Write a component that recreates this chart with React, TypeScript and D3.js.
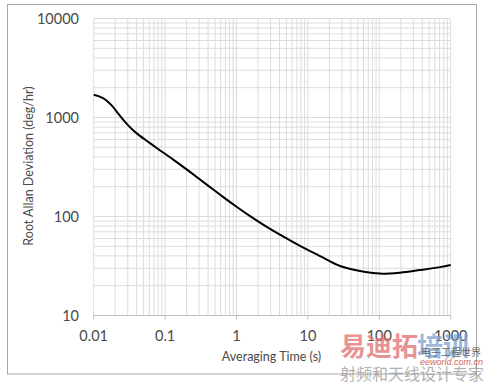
import React from "react";
import * as d3 from "d3";

const tauValues = [0.01, 0.0135, 0.0176, 0.0231, 0.0302, 0.036, 0.0417, 0.0576, 0.0762, 0.13, 0.223, 0.383, 0.653, 1.06, 1.55, 2.95, 5.61, 7.75, 14.8, 28.2, 53.7, 102, 195, 372, 708, 1000];
const adevValues = [1694, 1572, 1341, 1050, 837, 738, 675, 569, 492, 375, 282, 210, 157, 122, 101, 75, 57.5, 50.5, 39.8, 31.6, 28.1, 26.5, 27.1, 28.8, 30.8, 32.3];
const xTickLabels = ["0.01", "0.1", "1", "10", "100", "1000"];
const yTickLabels = ["10", "100", "1000", "10000"];
const xTitle = "Averaging Time (s)";
const yTitle = "Root Allan Deviation (deg/hr)";

const W = 490, H = 382;
const left = 93.7, right = 450.7, top = 18.5, bottom = 315.5;

export default function App() {
  const x = d3.scaleLog().domain([0.01, 1000]).range([left, right]);
  const y = d3.scaleLog().domain([10, 10000]).range([bottom, top]);

  const xMinor: number[] = [];
  for (let e = -2; e < 3; e++) for (let m = 1; m < 10; m++) xMinor.push(m * Math.pow(10, e));
  xMinor.push(1000);
  const yMinor: number[] = [];
  for (let e = 1; e < 4; e++) for (let m = 1; m < 10; m++) yMinor.push(m * Math.pow(10, e));
  yMinor.push(10000);

  const pts = tauValues.map((t, i) => [t, adevValues[i]] as [number, number]);
  const line = d3.line<[number, number]>().x(d => x(d[0])).y(d => y(d[1])).curve(d3.curveCatmullRom.alpha(0.5));

  const font = "Lato, 'Open Sans', sans-serif";
  return (
    <svg width={W} height={H} style={{ position: "absolute", left: 0, top: 0 }}>
      <rect x={0} y={0} width={W} height={H} fill="#fff" />
      <rect x={7.5} y={4.5} width={469} height={369.5} fill="none" stroke="#a6a6a6" strokeWidth={1} />
      {yMinor.map((v, i) => (
        <line key={"gy" + i} x1={left} x2={right} y1={y(v)} y2={y(v)} stroke="#dcdcdc" strokeWidth={1} />
      ))}
      {xMinor.map((v, i) => (
        <line key={"gx" + i} x1={x(v)} x2={x(v)} y1={top} y2={bottom} stroke="#dcdcdc" strokeWidth={1} />
      ))}
      <line x1={left} x2={right} y1={bottom} y2={bottom} stroke="#bfbfbf" strokeWidth={1} />
      {xTickLabels.map((t, i) => (
        <g key={"xt" + i}>
          <line x1={x(+t)} x2={x(+t)} y1={bottom} y2={bottom + 4} stroke="#bfbfbf" />
          <text x={x(+t)} y={341} textAnchor="middle" fontFamily={font} fontSize={14.5} fill="#4a4a4a">{t}</text>
        </g>
      ))}
      {yTickLabels.map((t, i) => (
        <text key={"yt" + i} x={79} y={y(+t) + 5} textAnchor="end" fontFamily={font} fontSize={14.5} fill="#4a4a4a">{t}</text>
      ))}
      <path d={line(pts) || ""} fill="none" stroke="#000" strokeWidth={2} />
      <text x={271.5} y={361} textAnchor="middle" fontFamily={font} fontSize={12.5} fill="#4a4a4a">{xTitle}</text>
      <text transform={`translate(33,166) rotate(-90)`} textAnchor="middle" fontFamily={font} fontSize={12.5} fill="#4a4a4a">{yTitle}</text>
      <g opacity={0.75}>
        <text x={340} y={356} fontFamily="'Noto Sans CJK SC'" fontWeight="bold" fontSize={26} fill="#e07070">易迪拓</text>
        <text x={417} y={356} fontFamily="'Noto Sans CJK SC'" fontWeight="bold" fontSize={26} fill="#7fa0d0">培训</text>
        <text x={421} y={356} fontFamily="'Noto Sans CJK SC'" fontSize={10} fill="#333">电子工程世界</text>
        <text x={420} y={365} fontFamily="sans-serif" fontStyle="italic" fontSize={9} fill="#c03030">eeworld.com.cn</text>
        <text x={340} y={380} fontFamily="'Noto Sans CJK SC'" fontSize={16} fill="#999">射频和天线设计专家</text>
      </g>
    </svg>
  );
}
